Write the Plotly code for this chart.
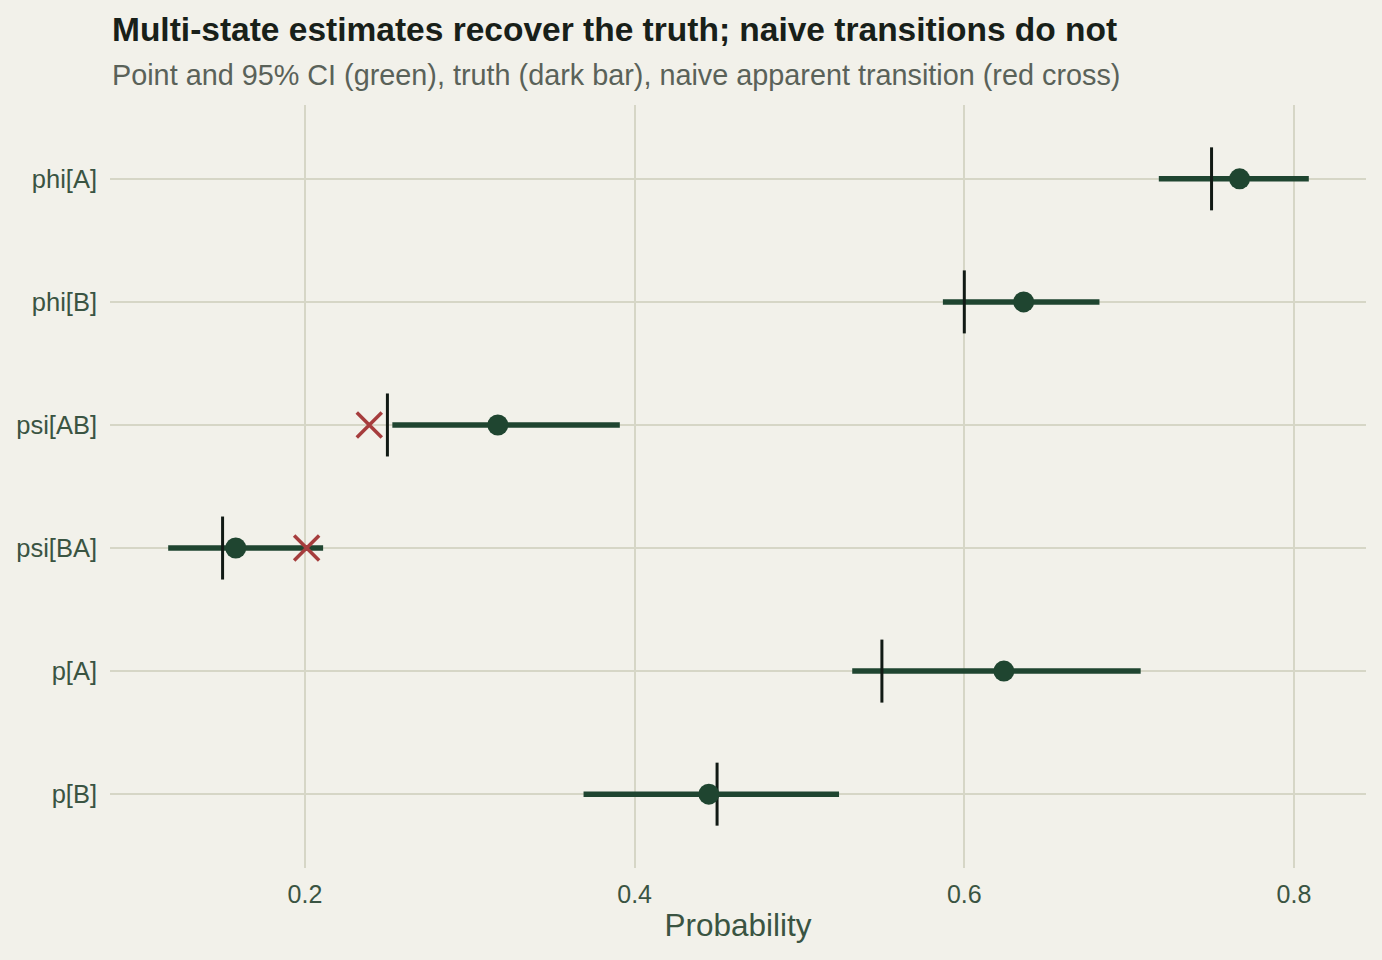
import plotly.graph_objects as go

params = ["phi[A]", "phi[B]", "psi[AB]", "psi[BA]", "p[A]", "p[B]"]
estimate = [0.767, 0.636, 0.317, 0.158, 0.624, 0.445]
ci_low = [0.718, 0.587, 0.253, 0.117, 0.532, 0.369]
ci_high = [0.809, 0.682, 0.391, 0.211, 0.707, 0.524]
truth = [0.75, 0.60, 0.25, 0.15, 0.55, 0.45]
naive_params = ["psi[AB]", "psi[BA]"]
naive = [0.239, 0.201]

GREEN = "#1F4530"
RED = "#A63D3D"
DARK = "#111A14"
BG = "#F2F1EA"
GRID = "#D6D6C6"
TXT = "#3A5442"
FONT = "Liberation Sans, Arial, sans-serif"

ci_x, ci_y = [], []
for p, lo, hi in zip(params, ci_low, ci_high):
    ci_x += [lo, hi, None]
    ci_y += [p, p, None]

fig = go.Figure()
fig.add_trace(go.Scatter(x=ci_x, y=ci_y, mode="lines",
                         line=dict(color=GREEN, width=5.5), hoverinfo="skip", showlegend=False))
fig.add_trace(go.Scatter(x=truth, y=params, mode="markers",
                         marker=dict(symbol="line-ns", size=45, line=dict(color=DARK, width=3)),
                         showlegend=False))
fig.add_trace(go.Scatter(x=estimate, y=params, mode="markers",
                         marker=dict(symbol="circle", size=21, color=GREEN, line=dict(width=0)),
                         showlegend=False))
fig.add_trace(go.Scatter(x=naive, y=naive_params, mode="markers",
                         marker=dict(symbol="x-thin", size=25, line=dict(color=RED, width=3.5)),
                         showlegend=False))

plot_h = 960 - 105 - 92
fig.update_layout(
    width=1382, height=960,
    paper_bgcolor=BG, plot_bgcolor=BG,
    margin=dict(l=110, r=16, t=105, b=92),
    font=dict(family=FONT, color=TXT),
    annotations=[
        dict(text="<b>Multi-state estimates recover the truth; naive transitions do not</b>",
             x=0, xref="paper", xanchor="left",
             y=1 + (105 - 30) / plot_h, yref="paper", yanchor="middle",
             showarrow=False, font=dict(size=33.5, color="#182019", family=FONT)),
        dict(text="Point and 95% CI (green), truth (dark bar), naive apparent transition (red cross)",
             x=0, xref="paper", xanchor="left",
             y=1 + (105 - 75) / plot_h, yref="paper", yanchor="middle",
             showarrow=False, font=dict(size=28.8, color="#5A6259", family=FONT)),
    ],
    xaxis=dict(range=[0.0817, 0.8437], tickvals=[0.2, 0.4, 0.6, 0.8],
               ticktext=["0.2", "0.4", "0.6", "0.8"],
               showgrid=True, gridcolor=GRID, gridwidth=1.5, zeroline=False, showline=False,
               ticks="", tickfont=dict(size=25, color=TXT), ticklabelstandoff=9,
               title=dict(text="Probability", font=dict(size=31.5, color=TXT), standoff=6)),
    yaxis=dict(type="category", categoryorder="array", categoryarray=params,
               range=[5.6, -0.6], showgrid=True, gridcolor=GRID, gridwidth=1.5,
               zeroline=False, showline=False, ticks="",
               tickfont=dict(size=25.5, color=TXT), ticklabelstandoff=12),
)

fig.write_html("out.html")
